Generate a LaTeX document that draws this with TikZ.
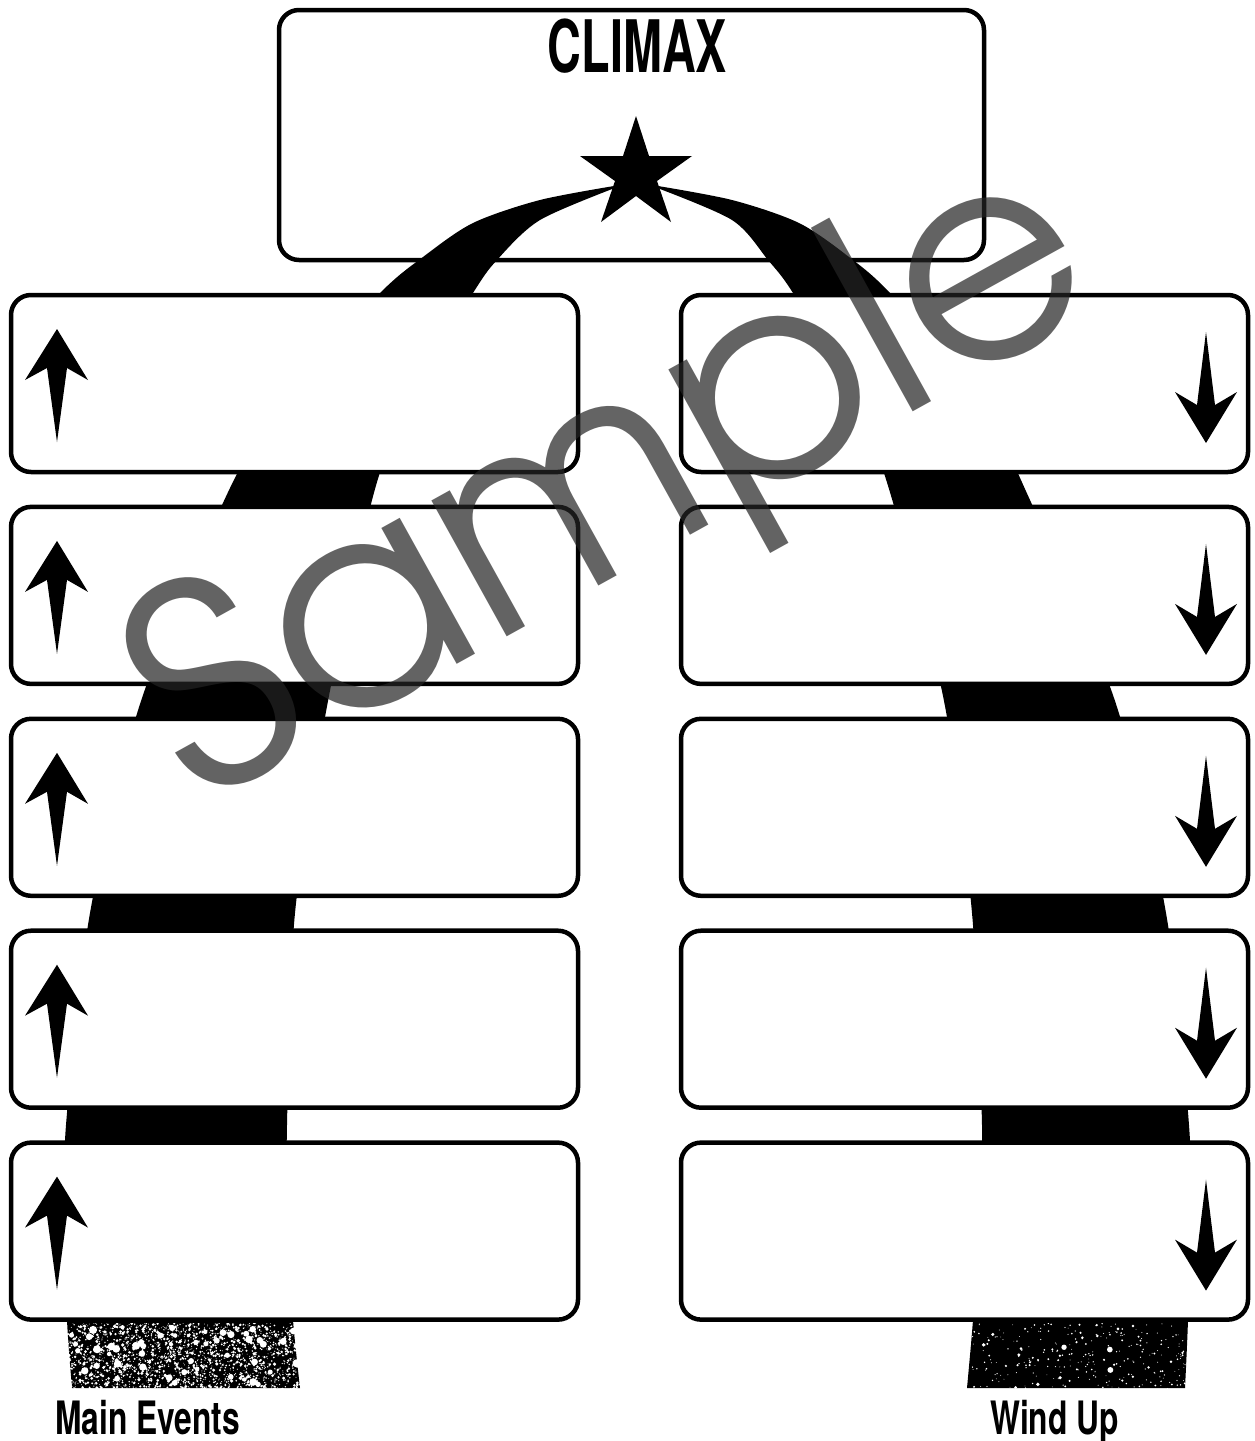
\documentclass[tikz,border=0pt]{standalone}
\usepackage{fontspec}
\usepackage{graphicx}
\setmainfont{TeX Gyre Heros}
\newfontfamily\advfont{texgyreadventor-regular.otf}
\begin{document}
\begin{tikzpicture}[x=1pt,y=-1pt,
  evbox/.style={draw=black, line width=4.5pt, rounded corners=20pt, fill=white,
    minimum width=567pt, minimum height=177pt, inner sep=0pt},
  topbox/.style={draw=black, line width=4.5pt, rounded corners=20pt, fill=white,
    minimum width=705pt, minimum height=250pt, inner sep=0pt},
  lbl/.style={inner sep=0pt, font=\bfseries\fontsize{46}{50}\selectfont},
  speck/.style={fill=white}]
\useasboundingbox (0,0) rectangle (1255,1441);

% climax box
\node[topbox] (climaxbox) at (631.5,135) {};

% left band
\fill[black] plot[smooth] coordinates {(620,185) (540,200) (473,223) (423,257) (380,293) (290,390) (230,488) (141,701) (90,913) (66,1125) (65,1230) (67,1320) (72,1388)}
  -- plot[smooth] coordinates {(300,1388) (293,1320) (288,1230) (287,1125) (295,913) (328,701) (375,489) (415,390) (473,293) (497,260) (540,220) (620,186)} -- cycle;
% right band
\fill[black] plot[smooth] coordinates {(652,185) (732,200) (799,223) (849,257) (890,293) (975,390) (1025,489) (1115,701) (1166,913) (1189,1125) (1190,1230) (1188,1320) (1185,1388)}
  -- plot[smooth] coordinates {(967,1388) (973,1320) (979,1230) (982,1125) (972,913) (944,701) (889,489) (850,390) (793,293) (768,260) (732,220) (652,186)} -- cycle;

% textured ends
\pgfmathsetseed{7}
\begin{scope}
  \clip (55,1323) rectangle (310,1392);
  \foreach \k in {1,...,2300}{
    \pgfmathsetmacro\xx{60+245*rnd}
    \pgfmathsetmacro\yy{1323+68*rnd}
    \pgfmathsetmacro\rr{0.4+1.5*rnd*rnd}
    \fill[speck] (\xx,\yy) circle[radius=\rr pt];
  }
  \foreach \k in {1,...,60}{
    \pgfmathsetmacro\xx{65+235*rnd}
    \pgfmathsetmacro\yy{1326+60*rnd}
    \pgfmathsetmacro\rr{1.8+2.4*rnd}
    \fill[speck] (\xx,\yy) circle[radius=\rr pt];
  }
\end{scope}
\begin{scope}
  \clip (960,1323) rectangle (1195,1392);
  \foreach \k in {1,...,300}{
    \pgfmathsetmacro\xx{965+225*rnd}
    \pgfmathsetmacro\yy{1323+68*rnd}
    \pgfmathsetmacro\rr{0.4+1.2*rnd*rnd}
    \fill[speck] (\xx,\yy) circle[radius=\rr pt];
  }
  \foreach \k in {1,...,8}{
    \pgfmathsetmacro\xx{970+215*rnd}
    \pgfmathsetmacro\yy{1330+55*rnd}
    \pgfmathsetmacro\rr{1.5+1.5*rnd}
    \fill[speck] (\xx,\yy) circle[radius=\rr pt];
  }
\end{scope}

% star
\fill[black] (636,116) -- (649,156) -- (692,156) -- (657,181) -- (671,222) -- (636,196)
  -- (601,222) -- (615,181) -- (580,156) -- (623,156) -- cycle;

% event boxes
\foreach \i in {1,...,5}{
  \pgfmathsetmacro\cy{383.5+211.9*(\i-1)}
  \node[evbox] (l\i) at (294.5,\cy) {};
  \node[evbox] (r\i) at (964.5,\cy) {};
}

% arrows
\foreach \i in {0,...,4}{
  \begin{scope}[shift={(0,211.9*\i)}]
    \fill[black] (57,329) -- (88,380) -- (67,368) -- (57,442) -- (47,368) -- (25,380) -- cycle;
    \fill[black] (1206,332) -- (1215,405) -- (1237,392) -- (1206,443) -- (1175,392) -- (1197,405) -- cycle;
  \end{scope}
}

% texts
\node[anchor=base, inner sep=0pt, font=\bfseries\fontsize{72.4}{80}\selectfont] (climax) at (637.5,72) {\scalebox{0.646}[1]{CLIMAX}};
\node[lbl, anchor=base west] (mainev) at (55,1434) {\scalebox{0.69}[1]{Main Events}};
\node[lbl, anchor=base west] (windup) at (990,1434) {\scalebox{0.69}[1]{Wind Up}};

% watermark
\node[rotate=29, anchor=base west, inner sep=0pt, text=black!86, text opacity=0.71,
  font=\advfont\fontsize{284}{284}\selectfont] (wm) at (198,808) {\scalebox{1.0}[1]{Sample}};
\end{tikzpicture}
\end{document}
